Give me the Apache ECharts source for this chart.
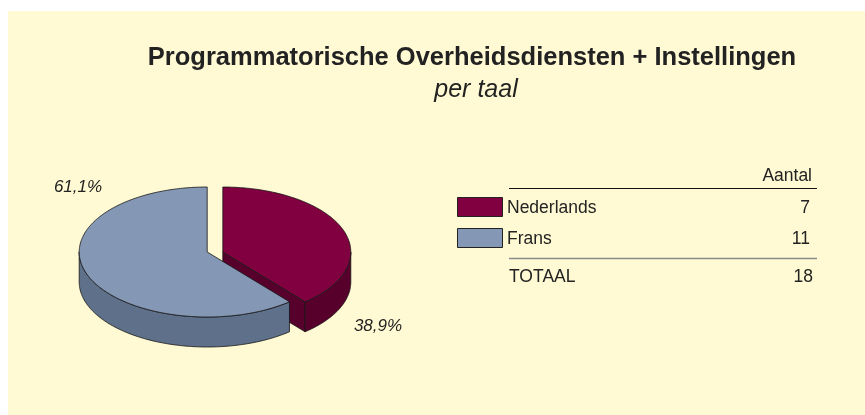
<!DOCTYPE html>
<html>
<head>
<meta charset="utf-8">
<script src="https://cdn.jsdelivr.net/npm/echarts@6/dist/echarts.min.js"></script>
<style>
html,body{margin:0;padding:0;background:#fff;}
#chart{width:865px;height:415px;}
</style>
</head>
<body>
<div id="chart"></div>
<script>
// ---- data ----
const categories = ['Nederlands', 'Frans'];
const values = [7, 11];
const headerLabel = 'Aantal';
const totalLabel = 'TOTAAL';
const titleText = 'Programmatorische Overheidsdiensten + Instellingen';
const subtitleText = 'per taal';

// ---- styles / layout ----
const topColors = ['#800040', '#8497b5'];
const sideColors = ['#57002b', '#5e708a'];
const PIE = { cx: 215, cy: 252, rx: 128, ry: 65, depth: 30, explode: 8.3 };
const labelPos = [[378, 326], [78, 187]];
const FONT = 'Liberation Sans, Arial, Helvetica, sans-serif';
const TXT = '#222';

const total = values.reduce((a, b) => a + b, 0);
function fmtPct(v) { return (v / total * 100).toFixed(1).replace('.', ',') + '%'; }

function renderSlice(params, api) {
  const i = params.dataIndex;
  const v = api.value(0);
  let before = 0;
  for (let j = 0; j < i; j++) before += values[j];
  const a = before / total * Math.PI * 2;
  const b = (before + v) / total * Math.PI * 2;
  const mid = (a + b) / 2;
  const c = [PIE.cx + PIE.explode * Math.sin(mid), PIE.cy];
  const P = (th, dy) => [c[0] + PIE.rx * Math.sin(th), c[1] - PIE.ry * Math.cos(th) + (dy || 0)];
  const arc = (s, e, dy) => {
    const n = Math.max(2, Math.ceil(Math.abs(e - s) / (Math.PI / 180)));
    const out = [];
    for (let k = 0; k <= n; k++) out.push(P(s + (e - s) * k / n, dy));
    return out;
  };
  const stroke = { stroke: '#161616', lineWidth: 0.8, lineJoin: 'round' };
  const D = PIE.depth;
  const children = [];
  const z0 = i * 10;
  const face = (th) => ({
    type: 'polygon', z2: z0,
    shape: { points: [c, P(th), P(th, D), [c[0], c[1] + D]] },
    style: Object.assign({ fill: sideColors[i] }, stroke)
  });
  if (Math.sin(a) < -1e-6) children.push(face(a));
  if (Math.sin(b) > 1e-6) children.push(face(b));
  const s = Math.max(a, Math.PI / 2), e = Math.min(b, Math.PI * 1.5);
  if (e > s) {
    const pts = arc(s, e, 0).concat(arc(e, s, D));
    children.push({ type: 'polygon', z2: z0 + 1, shape: { points: pts },
      style: Object.assign({ fill: sideColors[i] }, stroke) });
  }
  children.push({ type: 'polygon', z2: z0 + 2, shape: { points: [c].concat(arc(a, b, 0)) },
    style: Object.assign({ fill: topColors[i] }, stroke) });
  children.push({ type: 'text', z2: z0 + 3,
    style: { x: labelPos[i][0], y: labelPos[i][1], text: fmtPct(v), fill: TXT,
      font: 'italic 17px ' + FONT, textAlign: 'center', textVerticalAlign: 'middle' } });
  return { type: 'group', children };
}

// legend table
const graphics = [
  { type: 'rect', z: -10, shape: { x: 8, y: 11, width: 900, height: 420 }, style: { fill: '#fffad3' } },
  { type: 'text', style: { x: 812, y: 176, text: headerLabel, fill: TXT, font: '17.5px ' + FONT, textAlign: 'right', textVerticalAlign: 'middle' } },
  { type: 'line', shape: { x1: 509, y1: 188.5, x2: 817, y2: 188.5 }, style: { stroke: '#111', lineWidth: 1 } },
  { type: 'line', shape: { x1: 509, y1: 258.5, x2: 817, y2: 258.5 }, style: { stroke: '#8a8a8a', lineWidth: 1.5 } },
  { type: 'text', style: { x: 509, y: 277, text: totalLabel, fill: TXT, font: '17.5px ' + FONT, textAlign: 'left', textVerticalAlign: 'middle' } },
  { type: 'text', style: { x: 813, y: 277, text: String(total), fill: TXT, font: '17.5px ' + FONT, textAlign: 'right', textVerticalAlign: 'middle' } }
];
categories.forEach((name, i) => {
  const y0 = 197 + 31 * i;
  graphics.push({ type: 'rect', shape: { x: 457.5, y: y0 + 0.5, width: 45, height: 19 },
    style: { fill: topColors[i], stroke: '#222', lineWidth: 1 } });
  graphics.push({ type: 'text', style: { x: 507, y: y0 + 11, text: name, fill: TXT, font: '17.5px ' + FONT, textAlign: 'left', textVerticalAlign: 'middle' } });
  graphics.push({ type: 'text', style: { x: 810, y: y0 + 11, text: String(values[i]), fill: TXT, font: '17.5px ' + FONT, textAlign: 'right', textVerticalAlign: 'middle' } });
});

const chart = echarts.init(document.getElementById('chart'), null, { renderer: 'canvas' });
chart.setOption({
  backgroundColor: '#ffffff',
  animation: false,
  title: [{
    text: titleText,
    left: 467, top: 40, textAlign: 'center',
    textStyle: { fontFamily: FONT, fontWeight: 'bold', fontSize: 25.5, color: TXT }
  }, {
    text: subtitleText,
    left: 471, top: 73, textAlign: 'center',
    textStyle: { fontFamily: FONT, fontStyle: 'italic', fontWeight: 'normal', fontSize: 25, color: TXT }
  }],
  graphic: graphics,
  series: [{
    type: 'custom',
    coordinateSystem: 'none',
    renderItem: renderSlice,
    data: values.map((v, i) => ({ name: categories[i], value: [v] }))
  }]
});
</script>
</body>
</html>
